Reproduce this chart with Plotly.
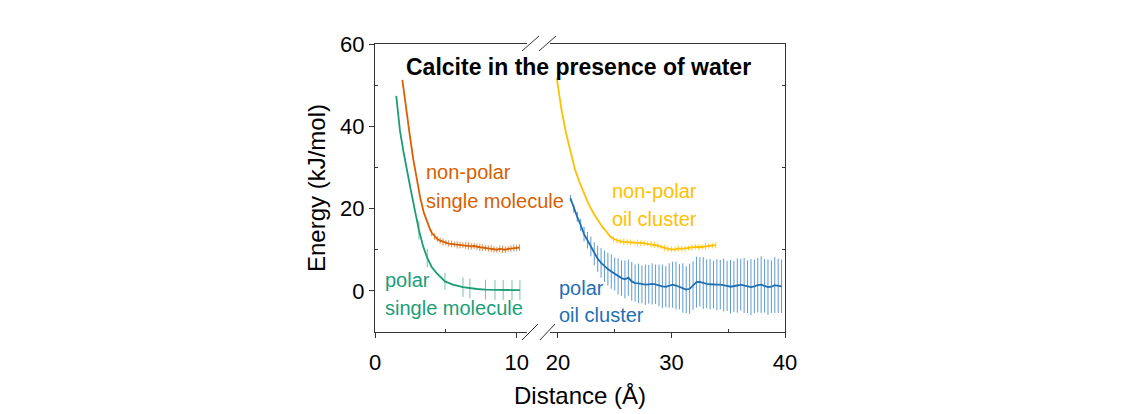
import plotly.graph_objects as go

# distances in Å, energies in kJ/mol
orange_x = [1.93, 2.2, 2.45, 2.7, 2.95, 3.2, 3.45, 3.7, 3.88,
            4.0, 4.2, 4.4, 4.6, 4.8, 5.0, 5.2, 5.4, 5.6, 5.8, 6.0, 6.2, 6.4, 6.6, 6.8,
            7.0, 7.2, 7.4, 7.6, 7.8, 8.0, 8.2, 8.4, 8.6, 8.8, 9.0, 9.2, 9.4, 9.6, 9.8,
            10.0, 10.2]
orange_y = [51.3, 44.0, 38.0, 32.0, 27.0, 22.5, 19.0, 16.5, 15.0,
            14.1, 13.2, 12.6, 12.2, 11.9, 11.7, 11.5, 11.4, 11.3, 11.2, 11.1, 11.1, 11.0, 10.9, 10.8,
            10.9, 10.7, 10.6, 10.5, 10.4, 10.3, 10.3, 10.1, 10.0, 10.2, 10.1, 10.0, 10.2, 10.3, 10.4,
            10.4, 10.5]
orange_err = [0, 0, 0, 0, 0, 0, 0, 0, 0,
              0.8, 0.8, 0.7, 0.8, 0.9, 0.7, 0.8, 0.8, 0.7, 0.9, 0.8, 0.7, 0.8, 0.9, 0.8,
              0.7, 0.8, 0.9, 0.8, 0.7, 0.8, 0.9, 0.8, 0.7, 0.8, 0.9, 0.8, 0.7, 0.8, 0.9,
              0.8, 0.8]

green_x = [1.5, 1.76, 2.0, 2.24, 2.5, 2.82, 3.1, 3.4, 3.69, 4.0, 4.35, 4.94, 5.5,
           6.21, 6.7, 7.2, 7.8, 8.47, 9.05, 9.67, 10.23]
green_y = [47.4, 39.0, 34.0, 29.4, 25.0, 19.5, 14.8, 10.8, 8.0, 5.8, 4.3, 2.3, 1.5,
           0.9, 0.6, 0.45, 0.3, 0.2, 0.2, 0.2, 0.2]
green_err = [0, 0, 0, 0, 0, 0, 2.3, 0, 2.2, 0, 0, 2.1, 0,
             2.4, 2.4, 0, 2.4, 2.4, 2.4, 2.4, 2.4]

yellow_x = [19.9, 20.3, 20.7, 21.1, 21.5, 21.9, 22.3, 22.7, 23.1, 23.5, 23.9, 24.3, 24.6,
            24.9, 25.2, 25.5, 25.8, 26.1, 26.4, 26.7, 27.0, 27.3, 27.6, 27.9, 28.2, 28.5,
            28.8, 29.1, 29.4, 29.7, 30.0, 30.3, 30.6, 30.9, 31.2, 31.5, 31.8, 32.1, 32.4,
            32.7, 33.0, 33.3, 33.6, 33.9]
yellow_y = [51.7, 44.2, 38.5, 34.2, 29.5, 26.4, 23.5, 21.1, 19.0, 17.2, 15.6, 14.3, 13.2,
            12.6, 12.2, 12.0, 11.9, 11.9, 11.8, 11.7, 11.7, 11.6, 11.6, 11.4, 11.3, 11.2,
            11.0, 10.7, 10.4, 10.2, 10.1, 10.1, 10.3, 10.2, 10.3, 10.4, 10.5, 10.7, 10.6,
            10.7, 10.8, 10.9, 11.0, 11.1]
yellow_err = [0, 0, 0, 0, 0, 0, 0, 0, 0, 0, 0, 0, 0,
              0.7, 0.7, 0.6, 0.8, 0.7, 0.7, 0.6, 0.8, 0.7, 0.7, 0.6, 0.8, 0.7,
              0.7, 0.6, 0.8, 0.7, 0.7, 0.6, 0.8, 0.7, 0.7, 0.6, 0.8, 0.7, 0.7,
              0.6, 0.8, 0.7, 0.7, 0.7]

blue_x = [21.1, 21.4, 21.7, 22.0, 22.3, 22.6, 22.9, 23.2, 23.5, 23.8, 24.1, 24.4, 24.7,
          25.0, 25.3, 25.6, 25.9, 26.2, 26.5, 26.8, 27.1, 27.4, 27.7, 28.0, 28.3, 28.6,
          28.9, 29.2, 29.5, 29.8, 30.1, 30.4, 30.7, 31.0, 31.3, 31.6, 31.9, 32.2, 32.5,
          32.8, 33.1, 33.4, 33.7, 34.0, 34.3, 34.6, 34.9, 35.2, 35.5, 35.8, 36.1, 36.4,
          36.7, 37.0, 37.3, 37.6, 37.9, 38.2, 38.5, 38.8, 39.1, 39.4, 39.7]
blue_y = [22.5, 20.0, 18.0, 16.0, 13.8, 12.3, 10.8, 9.0, 7.8, 6.8, 6.0, 5.3, 4.7,
          4.1, 3.5, 3.1, 2.8, 3.2, 2.3, 1.9, 1.8, 1.6, 1.5, 1.6, 1.7, 1.6,
          1.3, 1.1, 1.0, 1.3, 1.5, 1.3, 1.0, 0.7, 0.3, 0.5, 1.3, 2.1, 2.2,
          1.9, 1.7, 1.6, 1.5, 1.5, 1.5, 1.4, 1.2, 1.0, 1.1, 1.3, 1.5, 1.3,
          1.0, 0.9, 1.1, 1.4, 1.5, 1.2, 0.9, 1.0, 1.4, 1.2, 1.1]
blue_err = [0.8, 1.0, 1.2, 1.5, 1.8, 2.0, 2.4, 2.8, 3.2, 3.6, 3.8, 4.0, 4.2,
            4.0, 4.4, 4.3, 4.6, 4.4, 4.7, 4.5, 4.8, 4.6, 4.9, 4.7, 5.0, 4.8,
            5.1, 5.3, 5.0, 5.4, 5.6, 5.8, 5.5, 6.0, 5.7, 6.1, 5.9, 6.2, 6.0,
            6.3, 5.9, 6.1, 5.8, 6.2, 6.0, 6.4, 6.1, 6.5, 6.2, 6.6, 6.3, 6.7,
            6.4, 6.8, 6.5, 6.6, 6.9, 6.5, 6.7, 6.4, 6.8, 6.6, 6.5]

ORANGE = "rgb(217,95,2)"
GREEN = "rgb(27,158,119)"
YELLOW = "rgb(255,192,0)"
BLUE = "rgb(31,111,180)"
FONT = "Arial, Liberation Sans, sans-serif"

# plot area in page pixels
PX0, PX1, PY0, PY1 = 375, 785, 44, 332
W, H = 1140, 414


def px_x(px):
    return (px - PX0) / (PX1 - PX0)


def px_y(py):
    return (PY1 - py) / (PY1 - PY0)


fig = go.Figure()


def add_series(x, y, err, color, bar_color, xaxis, yaxis):
    fig.add_trace(go.Scatter(
        x=x, y=y, mode="markers", xaxis=xaxis, yaxis=yaxis,
        marker=dict(size=1, opacity=0),
        error_y=dict(type="data", array=err, visible=True, color=bar_color,
                     thickness=1, width=0),
        hoverinfo="skip", showlegend=False,
    ))
    fig.add_trace(go.Scatter(
        x=x, y=y, mode="lines", xaxis=xaxis, yaxis=yaxis,
        line=dict(color=color, width=1.8), showlegend=False,
    ))


add_series(orange_x, orange_y, orange_err, ORANGE, "rgba(217,95,2,0.7)", "x", "y")
add_series(green_x, green_y, green_err, GREEN, "rgba(27,158,119,0.6)", "x", "y")
add_series(yellow_x, yellow_y, yellow_err, YELLOW, "rgba(255,192,0,0.8)", "x2", "y2")
add_series(blue_x, blue_y, blue_err, BLUE, "rgba(40,120,195,0.75)", "x2", "y2")

labels = [
    ("non-polar", 3.46, 28.9, ORANGE, "x", "y"),
    ("single molecule", 3.46, 21.9, ORANGE, "x", "y"),
    ("polar", 0.56, 2.7, GREEN, "x", "y"),
    ("single molecule", 0.56, -4.1, GREEN, "x", "y"),
    ("non-polar", 24.58, 24.3, YELLOW, "x2", "y2"),
    ("oil cluster", 24.58, 17.5, YELLOW, "x2", "y2"),
    ("polar", 19.95, 0.7, BLUE, "x2", "y2"),
    ("oil cluster", 19.95, -5.8, BLUE, "x2", "y2"),
]
for text, lx, ly, color, xr, yr in labels:
    fig.add_annotation(x=lx, y=ly, xref=xr, yref=yr, text=text, showarrow=False,
                       xanchor="left", yanchor="middle",
                       font=dict(family=FONT, size=20, color=color))

fig.add_annotation(x=px_x(578), y=px_y(67), xref="paper", yref="paper",
                   xanchor="center", yanchor="middle",
                   text="<b>Calcite in the presence of water</b>", showarrow=False,
                   font=dict(family=FONT, size=23, color="black"))
fig.add_annotation(x=px_x(316), y=0.5, xref="paper", yref="paper",
                   xanchor="center", yanchor="middle",
                   text="Energy (kJ/mol)", textangle=-90, showarrow=False,
                   font=dict(family=FONT, size=24, color="black"))
fig.add_annotation(x=px_x(580), y=px_y(395), xref="paper", yref="paper",
                   xanchor="center", yanchor="middle",
                   text="Distance (Å)", showarrow=False,
                   font=dict(family=FONT, size=24, color="black"))

# axis break marks
for x0, y0, x1, y1 in [(522, 51, 539, 36), (539, 51, 556, 36),
                       (522, 340, 538, 324), (540, 340, 555, 324)]:
    fig.add_shape(type="line", xref="paper", yref="paper",
                  x0=px_x(x0), y0=px_y(y0), x1=px_x(x1), y1=px_y(y1),
                  line=dict(color="#333", width=1))

axis_common = dict(showline=True, linecolor="#333", linewidth=1, showgrid=False,
                   zeroline=False, ticks="outside", ticklen=5, tickcolor="#333",
                   tickfont=dict(family=FONT, size=22, color="black"))

fig.update_layout(
    width=W, height=H,
    margin=dict(l=PX0, r=W - PX1, t=PY0, b=H - PY1),
    paper_bgcolor="white", plot_bgcolor="white",
    xaxis=dict(domain=[0, px_x(527)], range=[0, 10.73], tickvals=[0, 10], mirror=True,
               anchor="y", ticklabelstandoff=6,
               minor=dict(tickvals=[5], ticks="inside", ticklen=3, tickcolor="#333"),
               **axis_common),
    xaxis2=dict(domain=[px_x(550), 1], range=[19.3, 40], tickvals=[20, 30, 40], mirror=True,
                anchor="y2", ticklabelstandoff=6,
                minor=dict(tickvals=[25, 35], ticks="inside", ticklen=3, tickcolor="#333"),
                **axis_common),
    yaxis=dict(range=[-10, 60], tickvals=[0, 20, 40, 60], anchor="x",
               minor=dict(tickvals=[10, 30, 50], ticks="inside", ticklen=3, tickcolor="#333"),
               **axis_common),
    yaxis2=dict(range=[-10, 60], anchor="x2", side="right", matches="y",
                showline=True, linecolor="#333", linewidth=1, showgrid=False,
                zeroline=False, showticklabels=False, ticks="",
                minor=dict(tickvals=[10, 30, 50], ticks="inside", ticklen=3, tickcolor="#333")),
)

# drop the default page margin so the figure fills the window exactly
fig.write_html("out.html", config={"displayModeBar": False},
               post_script="document.body.style.margin = '0';")
